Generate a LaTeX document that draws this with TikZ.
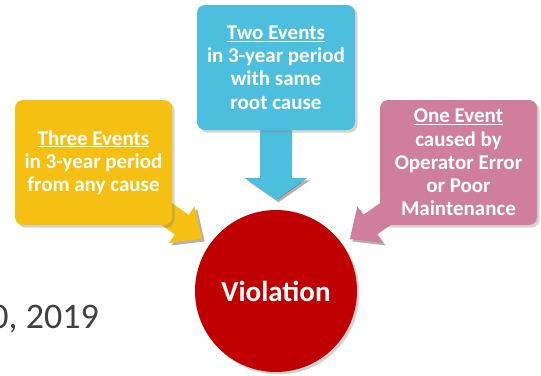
\documentclass[tikz,border=0pt]{standalone}
\usepackage{fontspec}
\setmainfont{Carlito}
\usetikzlibrary{arrows.meta,shadows,positioning}
\pgfdeclarelayer{back}
\pgfsetlayers{back,main}
\definecolor{evyellow}{HTML}{F5C012}
\definecolor{evblue}{HTML}{4CBFDE}
\definecolor{evpink}{HTML}{CF7F9B}
\definecolor{evred}{HTML}{C00000}
\definecolor{datetxt}{HTML}{404040}
\tikzset{
 softshadow/.style={drop shadow={opacity=.35,shadow xshift=2.5pt,shadow yshift=-2.5pt}},
 eventbox/.style={rounded corners=8pt,fill=#1,text=white,inner sep=0pt,align=center,
  minimum height=125pt,font=\bfseries\fontsize{21}{23.2}\selectfont,softshadow},
 pipe/.style n args={4}{draw=#1,line width=#2,-{Triangle[length=#3,width=#4]},
  preaction={draw=black,opacity=.3,transform canvas={shift={(2.5pt,-2.5pt)}}}}
}
\begin{document}
\begin{tikzpicture}[x=1pt,y=-1pt]
\useasboundingbox (0,0) rectangle (541,375);
\node[eventbox=evyellow,minimum width=157pt] (three) at (93.5,162.5)
 {\underline{Three Events}\\in 3-year period\\from any cause};
\node[eventbox=evblue,minimum width=158pt] (two) at (276,67.5)
 {\underline{Two Events}\\in 3-year period\\with same\\root cause};
\node[eventbox=evpink,minimum width=157pt] (one) at (458.5,162.5)
 {\underline{One Event}\\caused by\\Operator Error\\or Poor\\Maintenance};
\node[circle,fill=evred,minimum size=162pt,inner sep=0pt,text=white,softshadow,
 font=\bfseries\fontsize{29}{34}\selectfont] (viol) at (276,291) {Violation};
\node[anchor=base east,inner sep=0pt,text=datetxt,font=\fontsize{36}{40}\selectfont] (date) at (99,328)
 {0, 2019};
\begin{pgfonlayer}{back}
\draw[pipe={evyellow}{24pt}{25pt}{43pt},shorten >=9pt] (three.center) -- (viol);
\draw[pipe={evblue}{32pt}{22pt}{62pt},shorten >=10pt] (two.center) -- (viol);
\draw[pipe={evpink}{24pt}{25pt}{43pt},shorten >=9pt] (one.center) -- (viol);
\end{pgfonlayer}
\end{tikzpicture}
\end{document}
